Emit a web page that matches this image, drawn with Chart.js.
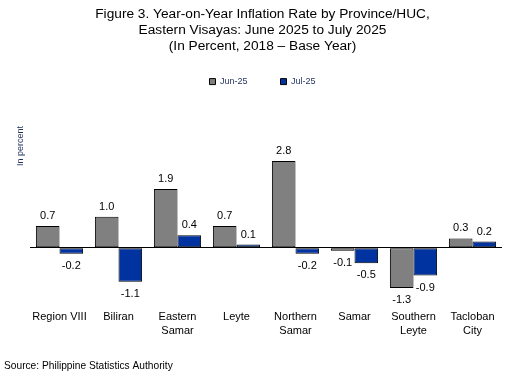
<!DOCTYPE html>
<html>
<head>
<meta charset="utf-8">
<script src="https://cdn.jsdelivr.net/npm/chart.js@4/dist/chart.umd.min.js"></script>
<style>
html,body{margin:0;padding:0;background:#fff;}
#wrap{width:525px;height:375px;position:relative;}
</style>
</head>
<body>
<div id="wrap"><canvas id="c" width="525" height="375"></canvas></div>
<script>
const categories = ['Region VIII', 'Biliran', ['Eastern', 'Samar'], 'Leyte', ['Northern', 'Samar'], 'Samar', ['Southern', 'Leyte'], ['Tacloban', 'City']];
const seriesNames = ['Jun-25', 'Jul-25'];
const jun25 = [0.7, 1.0, 1.9, 0.7, 2.8, -0.1, -1.3, 0.3];
const jul25 = [-0.2, -1.1, 0.4, 0.1, -0.2, -0.5, -0.9, 0.2];
const titleLines = ['Figure 3. Year-on-Year Inflation Rate by Province/HUC,', 'Eastern Visayas: June 2025 to July 2025', '(In Percent, 2018 \u2013 Base Year)'];
const yAxisLabel = 'In percent';
const sourceText = 'Source: Philippine Statistics Authority';

const FONT = '"Liberation Sans", Arial, sans-serif';
const NAVY = '#1F2F5F';

const valueLabels = {
  id: 'valueLabels',
  afterDatasetsDraw(chart) {
    const ctx = chart.ctx;
    ctx.save();
    ctx.font = '11px ' + FONT;
    ctx.fillStyle = '#000';
    ctx.textAlign = 'center';
    ctx.textBaseline = 'middle';
    chart.data.datasets.forEach((ds, i) => {
      const meta = chart.getDatasetMeta(i);
      meta.data.forEach((el, j) => {
        const v = ds.data[j];
        const y = v >= 0 ? Math.min(el.y, el.base) - 10 : Math.max(el.y, el.base) + 12;
        ctx.fillText(v.toFixed(1), el.x, y);
      });
    });
    ctx.restore();
  }
};

const extraText = {
  id: 'extraText',
  afterDraw(chart) {
    const ctx = chart.ctx;
    ctx.save();
    ctx.font = '9px ' + FONT;
    ctx.fillStyle = NAVY;
    ctx.textAlign = 'center';
    ctx.textBaseline = 'middle';
    ctx.translate(21, 146);
    ctx.rotate(-Math.PI / 2);
    ctx.fillText(yAxisLabel, 0, 0);
    ctx.restore();
    ctx.save();
    ctx.font = '10.2px ' + FONT;
    ctx.fillStyle = '#000';
    ctx.textAlign = 'left';
    ctx.textBaseline = 'middle';
    ctx.fillText(sourceText, 4, 366);
    ctx.restore();
  }
};

new Chart(document.getElementById('c'), {
  type: 'bar',
  data: {
    labels: categories,
    datasets: [
      { label: seriesNames[0], data: jun25, backgroundColor: '#808080', borderColor: '#000', borderWidth: 1, borderSkipped: false },
      { label: seriesNames[1], data: jul25, backgroundColor: '#0032A0', borderColor: '#000', borderWidth: 1, borderSkipped: false }
    ]
  },
  options: {
    responsive: false,
    animation: false,
    devicePixelRatio: 1,
    layout: { padding: { left: 0, right: 0, top: 0, bottom: 23 } },
    categoryPercentage: 0.8,
    barPercentage: 1.0,
    plugins: {
      title: {
        display: true,
        text: titleLines,
        color: '#000',
        font: { family: FONT, size: 13.7, weight: 'normal', lineHeight: 1.17 },
        padding: { top: 6, bottom: -10 }
      },
      legend: {
        display: true,
        position: 'top',
        labels: {
          boxWidth: 6,
          boxHeight: 6,
          color: NAVY,
          font: { family: FONT, size: 9 },
          padding: 33
        }
      },
      tooltip: { enabled: false }
    },
    scales: {
      x: {
        grid: { display: false },
        border: { display: false },
        ticks: { color: '#000', font: { family: FONT, size: 11, lineHeight: 1.25 }, maxRotation: 0, autoSkip: false, padding: 14 }
      },
      y: {
        min: -1.32,
        max: 4.90,
        afterFit(scale) { scale.width = 30; },
        border: { display: false },
        grid: {
          drawTicks: false,
          color: (c) => (c.tick && c.tick.value === 0 ? '#000' : 'rgba(0,0,0,0)'),
          lineWidth: 1
        },
        ticks: { display: false, stepSize: 1 }
      },
      yRight: {
        position: 'right',
        display: true,
        afterFit(scale) { scale.width = 23; },
        border: { display: false },
        grid: { display: false },
        ticks: { display: false }
      }
    }
  },
  plugins: [valueLabels, extraText]
});
</script>
</body>
</html>
